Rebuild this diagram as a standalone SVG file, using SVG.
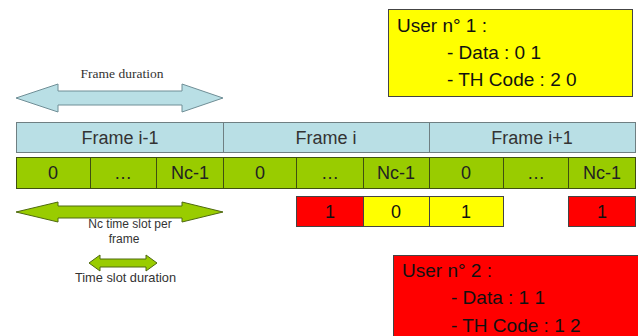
<svg xmlns="http://www.w3.org/2000/svg" width="638" height="336" viewBox="0 0 638 336">
<style>
text{font-family:"Liberation Sans",Arial,sans-serif;}
.frame{fill:#B9DFE5;stroke:#6F7F82;stroke-width:1;}
.slot{fill:#99CC00;stroke:#3F4F10;stroke-width:1;}
.red{fill:#FF0000;stroke:#444;stroke-width:1;}
.yel{fill:#FFFF00;stroke:#444;stroke-width:1;}
.ft{font-size:18px;fill:#333;text-anchor:middle;}
.st{font-size:18px;fill:#222;text-anchor:middle;}
.dt{font-size:18px;fill:#111;text-anchor:middle;}
.ut{font-size:19px;fill:#111;}
.lbl{font-size:12px;fill:#333;text-anchor:middle;}
</style>
<rect width="638" height="336" fill="#FFFFFF"/>
<g id="user1">
<rect x="388.5" y="9.5" width="244" height="87" class="yel"/>
<text x="397" y="32" class="ut">User n° 1 :</text>
<text x="447" y="59" class="ut">- Data : 0 1</text>
<text x="447" y="86" class="ut">- TH Code : 2 0</text>
</g>
<g id="frame-duration">
<polygon points="16,98 58,84 58,91 182,91 182,84 223,98 182,112 182,105 58,105 58,112" fill="#B9DFE5" stroke="#6F8E96" stroke-width="1"/>
<text x="122" y="78" style="font-family:'Liberation Serif','Times New Roman',serif;font-size:13.5px;fill:#333" text-anchor="middle">Frame duration</text>
</g>
<g id="frames">
<rect x="16.5" y="122.5" width="207" height="30" class="frame"/>
<rect x="223.5" y="122.5" width="206" height="30" class="frame"/>
<rect x="429.5" y="122.5" width="206" height="30" class="frame"/>
<text x="120" y="144" class="ft">Frame i-1</text>
<text x="326" y="144" class="ft">Frame i</text>
<text x="532" y="144" class="ft">Frame i+1</text>
</g>
<g id="slots">
<rect x="16.5" y="157.5" width="74" height="31" class="slot"/>
<rect x="90.5" y="157.5" width="66" height="31" class="slot"/>
<rect x="156.5" y="157.5" width="67" height="31" class="slot"/>
<rect x="223.5" y="157.5" width="73" height="31" class="slot"/>
<rect x="296.5" y="157.5" width="67" height="31" class="slot"/>
<rect x="363.5" y="157.5" width="66" height="31" class="slot"/>
<rect x="429.5" y="157.5" width="74" height="31" class="slot"/>
<rect x="503.5" y="157.5" width="65" height="31" class="slot"/>
<rect x="568.5" y="157.5" width="67" height="31" class="slot"/>
<text x="53" y="179" class="st">0</text>
<text x="123" y="179" class="st">…</text>
<text x="190" y="179" class="st">Nc-1</text>
<text x="260" y="179" class="st">0</text>
<text x="330" y="179" class="st">…</text>
<text x="396" y="179" class="st">Nc-1</text>
<text x="466" y="179" class="st">0</text>
<text x="536" y="179" class="st">…</text>
<text x="602" y="179" class="st">Nc-1</text>
</g>
<g id="data">
<rect x="296.5" y="196.5" width="67" height="30" class="red"/>
<rect x="363.5" y="196.5" width="66" height="30" class="yel"/>
<rect x="429.5" y="196.5" width="74" height="30" class="yel"/>
<rect x="568.5" y="196.5" width="67" height="30" class="red"/>
<text x="330" y="218" class="dt">1</text>
<text x="396" y="218" class="dt">0</text>
<text x="466" y="218" class="dt">1</text>
<text x="602" y="218" class="dt">1</text>
</g>
<g id="nc-slots">
<polygon points="16,212 58,202 58,206 182,206 182,202 223,212 182,222 182,218 58,218 58,222" fill="#99CC00" stroke="#4F6A10" stroke-width="1"/>
<text x="130" y="228" class="lbl">Nc time slot per</text>
<text x="124" y="243" class="lbl">frame</text>
</g>
<g id="slot-duration">
<polygon points="89,263 100,255 100,259 146,259 146,255 157,263 146,271 146,267 100,267 100,271" fill="#99CC00" stroke="#4F6A10" stroke-width="1"/>
<text x="125.5" y="282" class="lbl" style="font-size:12.8px">Time slot duration</text>
</g>
<g id="user2">
<rect x="393.5" y="255.5" width="245" height="90" class="red"/>
<text x="402" y="277" class="ut">User n° 2 :</text>
<text x="451" y="304" class="ut">- Data : 1 1</text>
<text x="451" y="332" class="ut">- TH Code : 1 2</text>
</g>
</svg>
